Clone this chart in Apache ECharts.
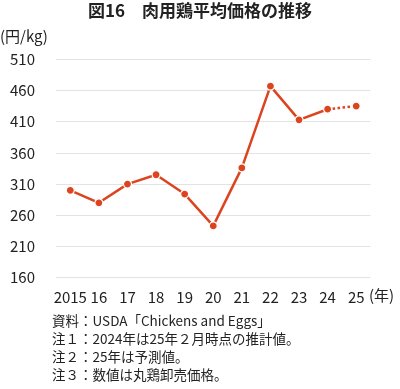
<!DOCTYPE html>
<html><head><meta charset="utf-8">
<script src="https://cdn.jsdelivr.net/npm/echarts@6/dist/echarts.min.js"></script>
<style>html,body{margin:0;padding:0;background:#fff}#c{width:400px;height:389px}</style>
</head><body><div id="c"></div>
<script>
const categories = ['2015','16','17','18','19','20','21','22','23','24','25'];
const prices = [300, 280, 310, 325, 294, 243, 336, 467, 413, 430, 435];
const forecastFrom = 9; // index of last estimated actual (2024); 2025 is forecast
const yTicks = {min: 160, max: 510, interval: 50};
const notes = ['資料：USDA「Chickens and Eggs」','注１：2024年は25年２月時点の推計値。','注２：25年は予測値。','注３：数値は丸鶏卸売価格。'];
const color = '#dc4420';
const FONT = '"Noto Sans CJK JP", "Noto Sans", sans-serif';

const solid = prices.map((v,i)=> i<=forecastFrom ? v : '-');
const dotted = prices.map((v,i)=> i>=forecastFrom ? v : '-');

const chart = echarts.init(document.getElementById('c'), null, {renderer:'canvas'});
const graphics = [
  {type:'text', left:'center', top:2, style:{text:'図16　肉用鶏平均価格の推移', font:'bold 17px '+FONT, fill:'#222'}},
  {type:'text', left:0, top:29, style:{text:'(円/kg)', font:'15px '+FONT, fill:'#222'}},
  {type:'text', left:369, top:288, style:{text:'(年)', font:'15px '+FONT, fill:'#222'}}
];
notes.forEach((t,i)=>graphics.push({type:'text', left:52, top:314+i*18, style:{text:t, font:'13.5px '+FONT, fill:'#222'}}));

chart.setOption({
  animation:false,
  textStyle:{fontFamily:FONT},
  grid:{left:56, right:29.5, top:59.3, bottom:111.3},
  xAxis:{type:'category', data:categories, boundaryGap:true,
    axisLine:{show:false}, axisTick:{show:false},
    axisLabel:{color:'#222', fontSize:15, margin:12, interval:0, hideOverlap:false, fontFamily:FONT}},
  yAxis:{type:'value', min:yTicks.min, max:yTicks.max, interval:yTicks.interval,
    axisLine:{show:false}, axisTick:{show:false},
    splitLine:{lineStyle:{color:'#e3e3e3', width:1}},
    axisLabel:{color:'#222', fontSize:15, margin:21, fontFamily:FONT}},
  series:[
    {type:'line', data:solid, symbol:'circle', symbolSize:8, connectNulls:false,
      lineStyle:{color:color, width:2.5}, itemStyle:{color:color, borderColor:'#fff', borderWidth:1.2}, z:3},
    {type:'line', data:dotted, symbol:'circle', symbolSize:8,
      lineStyle:{color:color, width:2.5, type:[2.5,2.5]}, itemStyle:{color:color, borderColor:'#fff', borderWidth:1.2}, z:2}
  ],
  graphic:graphics
});
</script></body></html>
